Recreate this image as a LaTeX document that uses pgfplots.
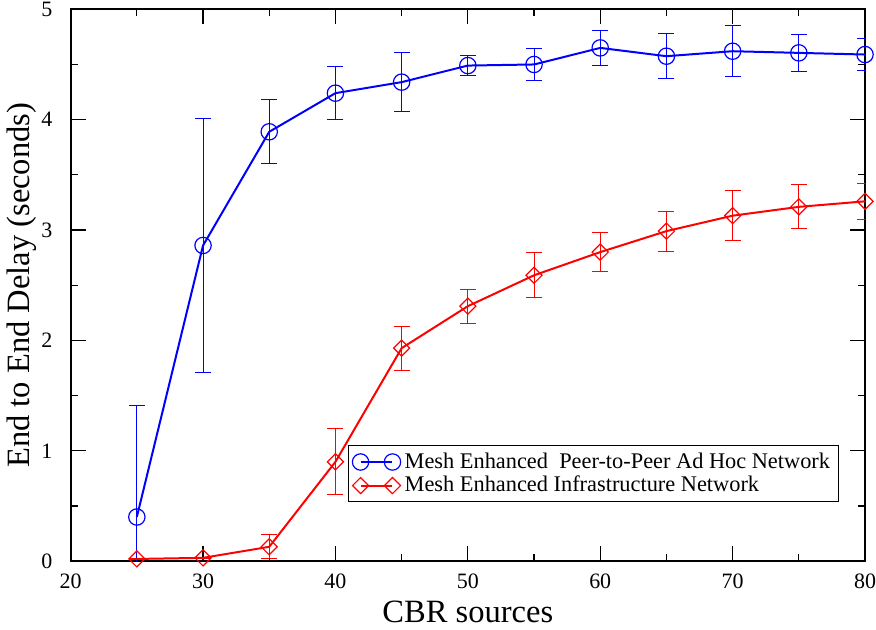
\documentclass[border=0pt]{standalone}
\usepackage{fontspec}
\setmainfont{Liberation Serif}
\usepackage{pgfplots}
\pgfplotsset{compat=1.18}

\begin{document}
\begin{tikzpicture}
\begin{axis}[
scale only axis,
width=398pt,
height=276.5pt,
xmin=20, xmax=80,
ymin=0, ymax=5,
xtick={20,30,...,80},
ytick={0,1,...,5},
minor xtick={25,35,...,75},
minor ytick={0.5,1.5,...,4.5},
tick align=inside,
major tick length=7.5pt,
minor tick length=3.5pt,
every tick/.style={black, line width=0.6pt},
axis line style={line width=1pt},
/pgf/number format/assume math mode=true,
tick label style={font=\fontsize{11}{13}\selectfont, inner sep=0pt},
yticklabel style={xshift=-9pt, inner ysep=1pt},
xticklabel style={yshift=-6pt},
label style={font=\fontsize{16.3}{19}\selectfont},
xlabel={CBR sources},
ylabel={End to End Delay (seconds)},
xlabel style={yshift=-3pt},
ylabel style={yshift=-1pt},
legend style={at={(0.349,0.21)}, anchor=north west, draw=black,
  line width=0.5pt, font=\fontsize{11.2}{12}\selectfont,
  inner xsep=2pt, inner ysep=1.5pt, row sep=-1.5pt},
legend cell align=left,
legend image code/.code={\draw[#1] plot coordinates {(0pt,0pt) (16pt,0pt)};},
error bars/error bar style={line width=0.5pt},
error bars/error mark options={rotate=90, mark size=4pt, line width=0.5pt},
]
\addplot[blue, line width=1pt, mark=o, mark size=4.1pt,
  mark options={line width=0.6pt},
  error bars/.cd, y dir=both, y explicit]
coordinates {
(25,0.40) +- (0,1.01)
(30,2.86) +- (0,1.15)
(35,3.89) +- (0,0.29)
(40,4.24) +- (0,0.24)
(45,4.34) +- (0,0.27)
(50,4.49) +- (0,0.09)
(55,4.50) +- (0,0.145)
(60,4.65) +- (0,0.155)
(65,4.575) +- (0,0.205)
(70,4.62) +- (0,0.23)
(75,4.605) +- (0,0.165)
(80,4.59) +- (0,0.145)
};
\addlegendentry{Mesh Enhanced\ \ Peer-to-Peer Ad Hoc Network}
\addplot[red, line width=1pt, mark=square, mark size=2.85pt,
  mark options={line width=0.6pt, rotate=45},
  error bars/.cd, y dir=both, y explicit]
coordinates {
(25,0.02) +- (0,0.005)
(30,0.03) +- (0,0.005)
(35,0.13) +- (0,0.11)
(40,0.90) +- (0,0.30)
(45,1.93) +- (0,0.20)
(50,2.31) +- (0,0.155)
(55,2.59) +- (0,0.205)
(60,2.80) +- (0,0.18)
(65,2.99) +- (0,0.18)
(70,3.13) +- (0,0.225)
(75,3.21) +- (0,0.20)
(80,3.26) +- (0,0.165)
};
\addlegendentry{Mesh Enhanced Infrastructure Network}
\end{axis}
\end{tikzpicture}
\end{document}
